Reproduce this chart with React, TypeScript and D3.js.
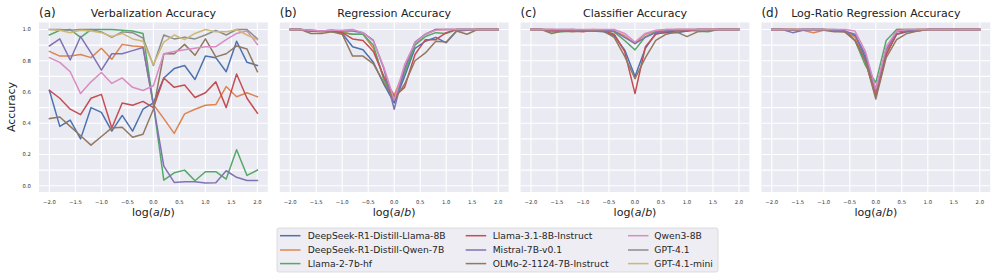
import * as d3 from 'd3';

const logRatio = [-2.0, -1.8, -1.6, -1.4, -1.2, -1.0, -0.8, -0.6, -0.4, -0.2, 0.0, 0.2, 0.4, 0.6, 0.8, 1.0, 1.2, 1.4, 1.6, 1.8, 2.0];

const models = [
  'DeepSeek-R1-Distill-Llama-8B',
  'DeepSeek-R1-Distill-Qwen-7B',
  'Llama-2-7b-hf',
  'Llama-3.1-8B-Instruct',
  'Mistral-7B-v0.1',
  'OLMo-2-1124-7B-Instruct',
  'Qwen3-8B',
  'GPT-4.1',
  'GPT-4.1-mini',
];
const colors = ['#4C72B0', '#DD8452', '#55A868', '#C44E52', '#8172B3', '#937860', '#DA8BC3', '#8C8C8C', '#CCB974'];

const xTicks = [-2.0, -1.5, -1.0, -0.5, 0.0, 0.5, 1.0, 1.5, 2.0];
const yTicks = [0.0, 0.2, 0.4, 0.6, 0.8, 1.0];
const yGrid = [0.0, 0.1, 0.2, 0.3, 0.4, 0.5, 0.6, 0.7, 0.8, 0.9, 1.0];

// (a) verbalization accuracy, all 9 models
const verbalization = [
  [0.61, 0.38, 0.42, 0.30, 0.50, 0.47, 0.35, 0.45, 0.35, 0.49, 0.53, 0.69, 0.75, 0.77, 0.68, 0.83, 0.82, 0.73, 0.925, 0.79, 0.77],
  [0.86, 0.83, 0.83, 0.84, 0.82, 0.88, 0.81, 0.905, 0.895, 0.89, 0.52, 0.43, 0.335, 0.46, 0.49, 0.515, 0.52, 0.635, 0.57, 0.595, 0.57],
  [0.965, 0.995, 1.0, 0.95, 1.0, 1.0, 1.0, 0.995, 0.99, 0.975, 0.52, 0.036, 0.083, 0.10, 0.032, 0.09, 0.09, 0.043, 0.23, 0.066, 0.10],
  [0.61, 0.56, 0.49, 0.455, 0.56, 0.585, 0.37, 0.53, 0.515, 0.54, 0.50, 0.69, 0.63, 0.645, 0.565, 0.595, 0.665, 0.50, 0.715, 0.56, 0.465],
  [0.895, 0.94, 0.805, 0.955, 0.85, 0.74, 0.845, 0.845, 0.865, 0.885, 0.52, 0.126, 0.021, 0.026, 0.026, 0.017, 0.019, 0.096, 0.054, 0.034, 0.034],
  [0.43, 0.44, 0.38, 0.32, 0.26, 0.315, 0.37, 0.375, 0.31, 0.33, 0.49, 0.845, 0.845, 0.905, 0.835, 0.94, 0.825, 0.845, 0.895, 0.875, 0.73],
  [0.82, 0.79, 0.73, 0.59, 0.665, 0.725, 0.655, 0.69, 0.63, 0.61, 0.64, 0.845, 0.86, 0.87, 0.88, 0.89, 0.89, 0.935, 0.975, 0.99, 0.905],
  [1.0, 1.0, 0.995, 1.0, 1.0, 0.985, 0.95, 0.985, 0.98, 0.945, 0.77, 0.965, 0.94, 0.95, 0.94, 0.965, 0.995, 0.965, 1.0, 1.0, 0.94],
  [1.0, 0.995, 0.98, 0.995, 0.99, 0.98, 0.955, 0.975, 0.94, 0.925, 0.775, 0.92, 0.965, 0.935, 0.975, 1.0, 0.985, 0.985, 1.0, 0.965, 0.935],
];

// (b)-(d), open models only
const regression = [
  [1, 1, 0.99, 0.99, 0.99, 0.975, 0.89, 0.87, 0.79, 0.65, 0.53, 0.70, 0.88, 0.925, 0.95, 0.915, 0.99, 0.995, 1, 1, 1],
  [1, 1, 0.995, 0.99, 0.995, 0.985, 0.97, 0.97, 0.88, 0.69, 0.58, 0.74, 0.91, 0.97, 1, 1, 1, 1, 1, 1, 1],
  [1, 1, 0.99, 0.99, 0.985, 0.98, 0.97, 0.97, 0.90, 0.68, 0.56, 0.72, 0.90, 0.955, 0.98, 0.975, 1, 1, 1, 1, 1],
  [1, 1, 0.99, 0.985, 0.99, 0.98, 0.94, 0.93, 0.86, 0.70, 0.57, 0.63, 0.84, 0.935, 0.935, 0.98, 1, 1, 1, 1, 1],
  [1, 1, 0.995, 0.99, 0.995, 0.99, 0.99, 0.98, 0.93, 0.75, 0.49, 0.75, 0.92, 0.97, 1, 1, 1, 1, 1, 1, 1],
  [1, 1, 0.975, 0.975, 0.985, 0.97, 0.83, 0.83, 0.78, 0.66, 0.55, 0.65, 0.80, 0.85, 0.925, 0.92, 0.99, 0.97, 1, 1, 1],
  [1, 1, 0.995, 0.99, 0.995, 0.995, 1, 0.98, 0.925, 0.76, 0.55, 0.775, 0.915, 0.97, 0.995, 1, 1, 1, 1, 1, 1],
];

const classifier = [
  [1, 1, 0.995, 0.995, 0.995, 0.995, 0.99, 0.985, 0.96, 0.87, 0.70, 0.88, 0.975, 0.98, 0.98, 0.99, 1, 1, 1, 1, 1],
  [1, 1, 1, 0.995, 1, 0.995, 1, 0.995, 0.99, 0.96, 0.91, 0.97, 0.99, 1, 1, 1, 1, 1, 1, 1, 1],
  [1, 1, 0.985, 0.985, 0.99, 0.99, 0.995, 0.99, 0.985, 0.93, 0.87, 0.955, 0.985, 0.99, 0.995, 0.995, 0.99, 0.985, 1, 1, 1],
  [1, 1, 0.995, 0.995, 0.99, 0.985, 0.995, 0.99, 0.97, 0.86, 0.59, 0.89, 0.97, 0.985, 0.99, 0.99, 1, 1, 1, 1, 1],
  [1, 1, 1, 1, 1, 0.995, 0.995, 0.995, 0.99, 0.95, 0.91, 0.95, 0.98, 0.99, 1, 1, 1, 1, 1, 1, 1],
  [1, 1, 0.975, 0.99, 0.985, 0.99, 0.99, 0.99, 0.95, 0.83, 0.685, 0.82, 0.93, 0.97, 0.985, 0.955, 0.985, 0.99, 1, 1, 1],
  [1, 1, 1, 1, 1, 1, 1, 1, 1, 0.975, 0.92, 0.975, 0.995, 1, 1, 1, 1, 1, 1, 1, 1],
];

const logRatioRegression = [
  [1, 1, 0.995, 1, 1, 1, 0.99, 0.985, 0.96, 0.82, 0.62, 0.84, 0.97, 0.985, 0.99, 1, 1, 1, 1, 1, 1],
  [1, 1, 1, 0.995, 0.98, 0.995, 0.995, 0.99, 0.95, 0.79, 0.59, 0.85, 1, 1, 1, 1, 1, 1, 1, 1, 1],
  [1, 1, 1, 1, 1, 1, 1, 0.995, 0.93, 0.77, 0.66, 0.93, 1, 1, 1, 1, 1, 1, 1, 1, 1],
  [1, 1, 1, 1, 1, 1, 0.995, 0.99, 0.93, 0.80, 0.57, 0.84, 0.97, 0.99, 1, 1, 1, 1, 1, 1, 1],
  [1, 1, 0.98, 0.995, 1, 1, 0.995, 0.99, 0.97, 0.84, 0.61, 0.87, 0.985, 0.99, 0.995, 1, 1, 1, 1, 1, 1],
  [1, 1, 1, 1, 1, 0.995, 0.985, 0.985, 0.93, 0.80, 0.555, 0.82, 0.935, 0.975, 0.99, 1, 1, 1, 1, 1, 1],
  [1, 1, 1, 1, 1, 1, 1, 1, 0.99, 0.86, 0.62, 0.89, 0.99, 1, 1, 1, 1, 1, 1, 1, 1],
];

const panels = [
  { tag: '(a)', title: 'Verbalization Accuracy', series: verbalization },
  { tag: '(b)', title: 'Regression Accuracy', series: regression },
  { tag: '(c)', title: 'Classifier Accuracy', series: classifier },
  { tag: '(d)', title: 'Log-Ratio Regression Accuracy', series: logRatioRegression },
];

const W = 997;
const H = 279;
const font = 'DejaVu Sans, sans-serif';
const panelW = 228.8;
const panelStep = 240.8;
const panelLeft = 39;
const top = 22.5;
const bottom = 192;

const y = d3.scaleLinear().domain([-0.04, 1.045]).range([bottom, top]);

const Panel = ({ idx }: { idx: number }) => {
  const p = panels[idx];
  const left = panelLeft + idx * panelStep;
  const x = d3.scaleLinear().domain([-2.2, 2.2]).range([left, left + panelW]);
  const line = d3.line<number>().x((_, i) => x(logRatio[i])).y(d => y(d));
  const cx = left + panelW / 2;
  return (
    <g>
      <rect x={left} y={top} width={panelW} height={bottom - top} fill="#EAEAF2" />
      {yGrid.map(t => (
        <line key={'h' + t} x1={left} x2={left + panelW} y1={y(t)} y2={y(t)} stroke="#fff" strokeWidth={1.1} />
      ))}
      {xTicks.map(t => (
        <line key={'v' + t} x1={x(t)} x2={x(t)} y1={top} y2={bottom} stroke="#fff" strokeWidth={1.1} />
      ))}
      <g clipPath={`url(#clip${idx})`}>
        {p.series.map((s, i) => (
          <path key={i} d={line(s) || ''} fill="none" stroke={colors[i]} strokeWidth={1.5} strokeLinejoin="round" strokeLinecap="square" />
        ))}
      </g>
      <clipPath id={`clip${idx}`}>
        <rect x={left} y={top} width={panelW} height={bottom - top} />
      </clipPath>
      {xTicks.map(t => (
        <text key={'xt' + t} x={x(t)} y={204} fontSize={5.3} textAnchor="middle" fill="#333" fontFamily={font}>
          {d3.format('.1f')(t).replace('-', '\u2212')}
        </text>
      ))}
      {idx === 0 &&
        yTicks.map(t => (
          <text key={'yt' + t} x={31} y={y(t)} dy="0.35em" fontSize={5.3} textAnchor="end" fill="#333" fontFamily={font}>
            {d3.format('.1f')(t)}
          </text>
        ))}
      <text x={cx} y={215.5} fontSize={11} textAnchor="middle" fill="#222" fontFamily={font}>
        log(<tspan fontStyle="italic">a</tspan>/<tspan fontStyle="italic">b</tspan>)
      </text>
      <text x={cx} y={17.3} fontSize={11} textAnchor="middle" fill="#222" fontFamily={font}>
        {p.title}
      </text>
      <text x={left} y={17.3} fontSize={12} fill="#222" fontFamily={font}>
        {p.tag}
      </text>
    </g>
  );
};

const legendCols = [
  { handle: 280, text: 307.7 },
  { handle: 465.7, text: 492.7 },
  { handle: 628, text: 654.3 },
];
const legendRows = [235.7, 250, 263.6];

const App = () => {
  return (
    <svg width={W} height={H} style={{ position: 'absolute', left: 0, top: 0 }}>
      <rect width={W} height={H} fill="#fff" />
      {panels.map((_, i) => (
        <Panel key={i} idx={i} />
      ))}
      <text
        transform="translate(14.5,107) rotate(-90)"
        fontSize={11}
        textAnchor="middle"
        fill="#222"
        fontFamily={font}
      >
        Accuracy
      </text>
      <rect x={277} y={228} width={441} height={44} rx={2} fill="#EDEDF3" stroke="#d4d4d8" strokeWidth={0.8} />
      {models.map((m, i) => {
        const c = legendCols[Math.floor(i / 3)];
        const ry = legendRows[i % 3];
        return (
          <g key={m}>
            <line x1={c.handle} x2={c.handle + 20.5} y1={ry} y2={ry} stroke={colors[i]} strokeWidth={1.5} />
            <text x={c.text} y={ry} dy="0.35em" fontSize={9.2} fill="#262626" fontFamily={font}>
              {m}
            </text>
          </g>
        );
      })}
    </svg>
  );
};

export default App;
